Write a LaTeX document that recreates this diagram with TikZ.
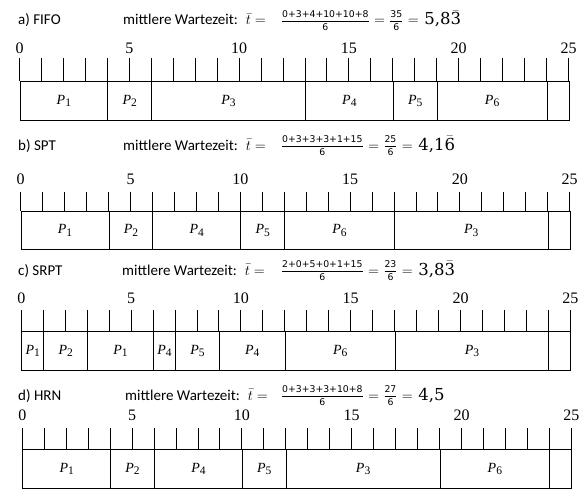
\documentclass[tikz,border=0pt]{standalone}
\usepackage{fontspec}
\setmainfont{Liberation Serif}
\newfontfamily\calib{Carlito}
\newfontfamily\dvserif{DejaVu Serif}
\newfontfamily\dvsans{DejaVu Sans}
\tikzset{
  x=1pt, y=-1pt,
  seg/.style={draw, line width=0.9pt, inner sep=0pt, anchor=north west,
    font=\fontsize{14}{14}\selectfont\itshape},
  ticklab/.style={font=\fontsize{16}{16}\selectfont, inner sep=0pt},
  tickline/.style={line width=0.9pt},
  titletext/.style={font=\calib\fontsize{15}{15}\selectfont, inner sep=0pt, anchor=base west},
  eqtext/.style={font=\fontsize{14.5}{15}\selectfont, inner sep=0pt, anchor=base west},
}
\newcommand{\Pn}[1]{P\raisebox{-2.5pt}{\upshape\fontsize{11.5}{11.5}\selectfont #1}}
\newcommand{\fr}[2]{\raisebox{1.4pt}{\dvsans\fontsize{9.3}{9.3}\selectfont\renewcommand{\arraystretch}{1.45}%
  \begin{tabular}{@{}c@{}}#1\\\hline #2\end{tabular}}}
\newcommand{\eqs}{\hspace{5.5pt}$=$\hspace{5.5pt}}
\newcommand{\res}[1]{{\dvserif\fontsize{16.5}{16.5}\selectfont #1}}
\newcommand{\gantt}[7]{%
  \foreach \k in {0,...,25} {
    \draw[tickline] ({#2+\k*21.96},#4) -- ({#2+\k*21.96},#5);
  }
  \foreach \k in {0,5,...,25} {
    \node[ticklab] (#1-l\k) at ({#2+\k*21.96},#3) {\k};
  }
  \foreach \s/\e/\l [count=\i] in {#7} {
    \node[seg, minimum width={(\e-\s)*21.96pt}, minimum height={(#6-#5)*1pt}]
      (#1-s\i) at ({#2+\s*21.96},#5) {\l};
  }
}
\begin{document}
\begin{tikzpicture}
\useasboundingbox (0,0) rectangle (585,500);
% a
\node[titletext] (ta) at (18,25) {a) FIFO};
\node[titletext] (wa) at (123,25) {mittlere Wartezeit: \ $\bar t =$};
\node[eqtext] (ea) at (282,25) {\fr{0+3+4+10+10+8}{6}\eqs\fr{35}{6}\eqs\res{5,8$\bar{\mbox{3}}$}};
\gantt{a}{19.5}{48}{58.5}{81}{120}{0/4/\Pn{1},4/6/\Pn{2},6/13/\Pn{3},13/17/\Pn{4},17/19/\Pn{5},19/24/\Pn{6},24/25/{}}
% b
\node[titletext] (tb) at (18,150) {b) SPT};
\node[titletext] (wb) at (123,150) {mittlere Wartezeit: \ $\bar t =$};
\node[eqtext] (eb) at (282,150) {\fr{0+3+3+3+1+15}{6}\eqs\fr{25}{6}\eqs\res{4,1$\bar{\mbox{6}}$}};
\gantt{b}{20.7}{179}{191.7}{211}{249.3}{0/4/\Pn{1},4/6/\Pn{2},6/10/\Pn{4},10/12/\Pn{5},12/17/\Pn{6},17/24/\Pn{3},24/25/{}}
% c
\node[titletext] (tc) at (18,275) {c) SRPT};
\node[titletext] (wc) at (122,275) {mittlere Wartezeit: \ $\bar t =$};
\node[eqtext] (ec) at (282,275) {\fr{2+0+5+0+1+15}{6}\eqs\fr{23}{6}\eqs\res{3,8$\bar{\mbox{3}}$}};
\gantt{c}{21.3}{298}{310}{331}{370}{0/1/\Pn{1},1/3/\Pn{2},3/6/\Pn{1},6/7/\Pn{4},7/9/\Pn{5},9/12/\Pn{4},12/17/\Pn{6},17/24/\Pn{3},24/25/{}}
% d
\node[titletext] (td) at (18,400) {d) HRN};
\node[titletext] (wd) at (125,400) {mittlere Wartezeit: \ $\bar t =$};
\node[eqtext] (ed) at (282,400) {\fr{0+3+3+3+10+8}{6}\eqs\fr{27}{6}\eqs\res{4,5}};
\gantt{d}{22.3}{415}{428.3}{449.3}{487.7}{0/4/\Pn{1},4/6/\Pn{2},6/10/\Pn{4},10/12/\Pn{5},12/19/\Pn{3},19/24/\Pn{6},24/25/{}}
\end{tikzpicture}
\end{document}
